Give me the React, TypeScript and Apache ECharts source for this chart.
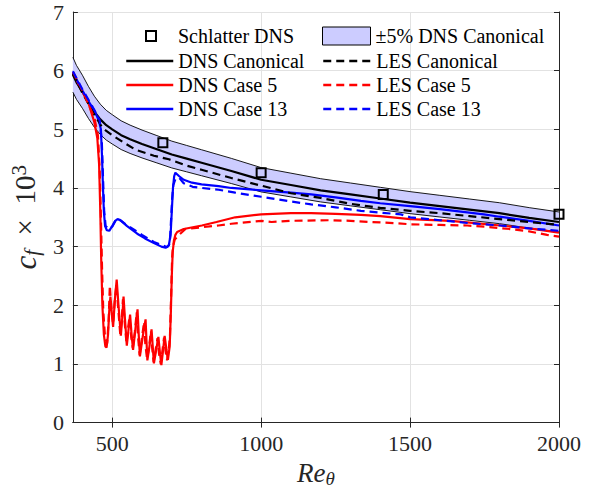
import React, { useEffect, useRef } from 'react';
import * as echarts from 'echarts';

// ---------- data ----------
const reTicks = [500, 1000, 1500, 2000];
const cfTicksMax = 7;

const schlatterRe = [670, 1000, 1410, 2000];
const schlatterCf = [4.77, 4.26, 3.89, 3.55];

const dnsCanonRe = [368, 380, 400, 420, 440, 460, 480, 500, 530, 560, 600, 650, 700, 750, 800, 900, 1000, 1100, 1200, 1300, 1400, 1500, 1600, 1700, 1800, 1900, 2000];
const dnsCanonCf = [5.93, 5.8, 5.64, 5.46, 5.3, 5.17, 5.07, 5.0, 4.9, 4.83, 4.75, 4.66, 4.57, 4.5, 4.43, 4.29, 4.14, 4.05, 3.96, 3.89, 3.82, 3.75, 3.69, 3.63, 3.57, 3.49, 3.42];
const bandFraction = 0.05; // ±5% band around DNS canonical

const lesCanonRe = [368, 400, 440, 468, 500, 540, 579, 640, 690, 750, 800, 900, 1000, 1100, 1200, 1300, 1400, 1500, 1600, 1700, 1800, 1900, 2000];
const lesCanonCf = [5.95, 5.62, 5.25, 5.02, 4.9, 4.77, 4.65, 4.55, 4.49, 4.38, 4.31, 4.17, 4.04, 3.91, 3.83, 3.73, 3.66, 3.61, 3.57, 3.52, 3.47, 3.42, 3.37];

const dnsCase5Re = [368, 400, 420, 440, 450, 456, 460, 463, 467, 472, 477, 481, 486, 490, 494, 498, 503, 509, 515, 521, 529, 534, 538, 543, 549, 555, 560, 565, 570, 577, 585, 589, 593, 602, 612, 615, 618, 625, 632, 636, 640, 648, 655, 660, 665, 670, 676, 682, 687, 693, 697, 700, 703, 707, 712, 718, 740, 801, 850, 913, 1000, 1100, 1168, 1250, 1335, 1400, 1500, 1636, 1700, 1803, 1900, 2000];
const dnsCase5Cf = [5.96, 5.64, 5.45, 5.12, 4.85, 4.4, 3.6, 2.8, 2.0, 1.5, 1.3, 1.28, 1.5, 1.9, 2.15, 1.9, 1.63, 2.1, 2.44, 2.0, 1.48, 1.8, 2.15, 1.75, 1.31, 1.6, 1.84, 1.5, 1.24, 1.55, 1.93, 1.5, 1.13, 1.45, 1.76, 1.4, 1.06, 1.3, 1.59, 1.3, 1.01, 1.25, 1.46, 1.2, 0.98, 1.2, 1.48, 1.25, 1.07, 1.3, 1.9, 2.5, 2.9, 3.1, 3.2, 3.25, 3.3, 3.36, 3.42, 3.5, 3.55, 3.57, 3.57, 3.56, 3.54, 3.52, 3.47, 3.44, 3.41, 3.36, 3.31, 3.24];

const lesCase5Re = [368, 400, 440, 452, 458, 462, 466, 470, 476, 483, 488, 492, 497, 503, 508, 514, 520, 527, 532, 536, 542, 548, 553, 558, 564, 569, 576, 582, 587, 592, 600, 607, 611, 617, 624, 630, 634, 639, 646, 652, 657, 663, 668, 674, 679, 684, 690, 694, 698, 701, 704, 710, 720, 746, 800, 857, 900, 1002, 1035, 1100, 1224, 1300, 1368, 1450, 1502, 1600, 1692, 1750, 1836, 1900, 1960, 2000];
const lesCase5Cf = [5.98, 5.66, 5.2, 4.9, 4.3, 3.5, 2.6, 1.9, 1.45, 1.35, 1.75, 2.34, 1.95, 1.68, 2.05, 2.35, 1.95, 1.5, 1.75, 2.1, 1.7, 1.35, 1.6, 1.8, 1.45, 1.27, 1.55, 1.88, 1.45, 1.15, 1.45, 1.72, 1.35, 1.08, 1.3, 1.56, 1.28, 1.03, 1.25, 1.44, 1.18, 1.0, 1.2, 1.45, 1.22, 1.06, 1.25, 1.5, 2.2, 2.8, 3.0, 3.12, 3.18, 3.3, 3.33, 3.36, 3.39, 3.44, 3.42, 3.44, 3.45, 3.44, 3.42, 3.4, 3.38, 3.37, 3.36, 3.34, 3.3, 3.26, 3.2, 3.17];

const dnsCase13Re = [368, 400, 420, 440, 455, 462, 466, 469, 472, 476, 482, 490, 500, 510, 518, 530, 550, 584, 610, 640, 665, 679, 690, 696, 700, 704, 708, 712, 725, 740, 768, 800, 857, 900, 1000, 1100, 1168, 1250, 1335, 1400, 1500, 1600, 1748, 1800, 1900, 2000];
const dnsCase13Cf = [5.97, 5.66, 5.48, 5.32, 5.15, 5.0, 4.5, 4.0, 3.6, 3.35, 3.28, 3.27, 3.35, 3.44, 3.47, 3.44, 3.35, 3.22, 3.14, 3.06, 3.0, 2.98, 3.02, 3.2, 3.6, 4.0, 4.2, 4.26, 4.2, 4.14, 4.09, 4.06, 4.03, 4.0, 3.96, 3.92, 3.89, 3.84, 3.78, 3.74, 3.69, 3.64, 3.55, 3.51, 3.44, 3.36];

const lesCase13Re = [368, 400, 440, 458, 465, 469, 473, 478, 488, 500, 512, 520, 540, 560, 600, 640, 670, 685, 693, 697, 701, 705, 712, 724, 740, 770, 801, 857, 913, 1000, 1100, 1168, 1250, 1335, 1400, 1469, 1500, 1600, 1700, 1803, 1900, 2000];
const lesCase13Cf = [5.99, 5.68, 5.33, 5.15, 4.8, 4.2, 3.6, 3.35, 3.3, 3.34, 3.45, 3.48, 3.4, 3.33, 3.2, 3.08, 3.02, 2.99, 3.05, 3.4, 3.8, 4.05, 4.15, 4.18, 4.08, 4.02, 4.0, 3.97, 3.92, 3.85, 3.77, 3.72, 3.67, 3.61, 3.58, 3.55, 3.5, 3.45, 3.4, 3.36, 3.31, 3.27];

// ---------- helpers ----------
const zip = (xs: number[], ys: number[]) => xs.map((x, i) => [x, ys[i]]);
const SERIF = 'Liberation Serif';
const AX = '#262626';
const BAND = '#ccccff';

const bandUpper = dnsCanonCf.map((v) => v * (1 + bandFraction));
const bandLower = dnsCanonCf.map((v) => v * (1 - bandFraction));

const lineSeries = (name: string, xs: number[], ys: number[], color: string, dashed: boolean) => ({
  name,
  type: 'line',
  data: zip(xs, ys),
  symbol: 'none',
  showSymbol: false,
  color,
  itemStyle: { color },
  lineStyle: { color, width: 2.2, type: dashed ? [8, 5] : 'solid' },
  z: 3,
});

const legendText = { fontFamily: SERIF, fontSize: 20, color: '#000', lineHeight: 20 };
const hiddenSymbol = { color: 'rgba(0,0,0,0)', borderColor: 'rgba(0,0,0,0)', borderWidth: 0, opacity: 0 };

const option: any = {
  animation: false,
  backgroundColor: '#ffffff',
  grid: { left: 70, right: 40, top: 12, bottom: 68, containLabel: false },
  legend: [
    {
      data: ['Schlatter DNS'],
      left: 145, top: 26, padding: 0,
      itemWidth: 10, itemHeight: 10, itemGap: 4,
      selectedMode: false,
      itemStyle: { color: 'rgba(0,0,0,0)', borderColor: '#000', borderWidth: 2, opacity: 1 },
      textStyle: { ...legendText, padding: [0, 0, 0, 17] },
    },
    {
      data: [{ name: '±5% DNS Canonical', icon: 'rect', itemStyle: { color: BAND, borderColor: '#000', borderWidth: 1 } }],
      left: 322, top: 26, padding: 0,
      itemWidth: 48, itemHeight: 18, itemGap: 4,
      selectedMode: false,
      textStyle: legendText,
    },
    {
      data: ['DNS Canonical', 'DNS Case 5', 'DNS Case 13'],
      orient: 'vertical',
      left: 125, top: 51, padding: 0,
      itemWidth: 47, itemHeight: 14, itemGap: 4,
      selectedMode: false,
      itemStyle: hiddenSymbol,
      lineStyle: { width: 2.5 },
      textStyle: legendText,
    },
    {
      data: ['LES Canonical', 'LES Case 5', 'LES Case 13'],
      orient: 'vertical',
      left: 322, top: 51, padding: 0,
      itemWidth: 48, itemHeight: 14, itemGap: 4,
      selectedMode: false,
      itemStyle: hiddenSymbol,
      lineStyle: { width: 2.5 },
      textStyle: legendText,
    },
  ],
  xAxis: [
    {
      type: 'value',
      position: 'bottom',
      min: 368,
      max: 2000,
      name: '{r|Re}{s|θ}',
      nameLocation: 'middle',
      nameGap: 29,
      nameTextStyle: {
        rich: {
          r: { fontFamily: SERIF, fontStyle: 'italic', fontSize: 27, color: AX, lineHeight: 30, verticalAlign: 'middle' },
          s: { fontFamily: SERIF, fontStyle: 'italic', fontSize: 19, color: AX, lineHeight: 18, verticalAlign: 'bottom' },
        },
      },
      axisLine: { show: true, lineStyle: { color: AX, width: 1 } },
      axisTick: { show: true, inside: true, length: 5, customValues: reTicks, lineStyle: { color: AX } },
      axisLabel: { customValues: reTicks, fontFamily: SERIF, fontSize: 22, color: AX, margin: 10, formatter: (v: number) => String(v) },
      splitLine: { show: true, lineStyle: { color: '#e2e2e2', width: 1 } },
    },
    {
      type: 'value',
      position: 'top',
      min: 368,
      max: 2000,
      axisLine: { show: true, lineStyle: { color: AX, width: 1 } },
      axisTick: { show: true, inside: true, length: 5, customValues: reTicks, lineStyle: { color: AX } },
      axisLabel: { show: false },
      splitLine: { show: false },
    },
  ],
  yAxis: [
    {
      type: 'value',
      position: 'left',
      min: 0,
      max: cfTicksMax,
      interval: 1,
      name: '{c|c}{f|f}{x|  ×  10}{e|3}',
      nameLocation: 'middle',
      nameGap: 19,
      nameRotate: 90,
      nameTextStyle: {
        rich: {
          c: { fontFamily: SERIF, fontStyle: 'italic', fontSize: 31, color: AX, lineHeight: 34, verticalAlign: 'middle' },
          f: { fontFamily: SERIF, fontStyle: 'italic', fontSize: 21, color: AX, lineHeight: 20, verticalAlign: 'bottom' },
          x: { fontFamily: SERIF, fontSize: 29, color: AX, lineHeight: 34, verticalAlign: 'middle' },
          e: { fontFamily: SERIF, fontSize: 21, color: AX, lineHeight: 18, verticalAlign: 'top' },
        },
      },
      axisLine: { show: true, lineStyle: { color: AX, width: 1 } },
      axisTick: { show: true, inside: true, length: 5, lineStyle: { color: AX } },
      axisLabel: { fontFamily: SERIF, fontSize: 22, color: AX, margin: 9 },
      splitLine: { show: true, lineStyle: { color: '#e2e2e2', width: 1 } },
    },
    {
      type: 'value',
      position: 'right',
      min: 0,
      max: cfTicksMax,
      interval: 1,
      axisLine: { show: true, lineStyle: { color: AX, width: 1 } },
      axisTick: { show: true, inside: true, length: 5, lineStyle: { color: AX } },
      axisLabel: { show: false },
      splitLine: { show: false },
    },
  ],
  series: [
    {
      name: '±5% DNS Canonical',
      type: 'custom',
      data: [[dnsCanonRe[0], dnsCanonCf[0]]],
      encode: { x: 0, y: 1 },
      itemStyle: { color: BAND, borderColor: '#000', borderWidth: 1 },
      z: 1,
      renderItem: (params: any, api: any) => {
        const up = dnsCanonRe.map((x, i) => api.coord([x, bandUpper[i]]));
        const lo = dnsCanonRe.map((x, i) => api.coord([x, bandLower[i]])).reverse();
        return {
          type: 'group',
          children: [
            { type: 'polygon', shape: { points: up.concat(lo) }, style: { fill: BAND, stroke: 'none' } },
            { type: 'polyline', shape: { points: up }, style: { fill: 'none', stroke: '#000', lineWidth: 0.9 } },
            { type: 'polyline', shape: { points: lo }, style: { fill: 'none', stroke: '#000', lineWidth: 0.9 } },
          ],
        };
      },
    },
    lineSeries('DNS Canonical', dnsCanonRe, dnsCanonCf, '#000000', false),
    lineSeries('DNS Case 5', dnsCase5Re, dnsCase5Cf, '#ff0000', false),
    lineSeries('DNS Case 13', dnsCase13Re, dnsCase13Cf, '#0000ff', false),
    lineSeries('LES Canonical', lesCanonRe, lesCanonCf, '#000000', true),
    lineSeries('LES Case 5', lesCase5Re, lesCase5Cf, '#ff0000', true),
    lineSeries('LES Case 13', lesCase13Re, lesCase13Cf, '#0000ff', true),
    {
      name: 'Schlatter DNS',
      type: 'scatter',
      data: zip(schlatterRe, schlatterCf),
      symbol: 'rect',
      symbolSize: 9,
      clip: false,
      itemStyle: { color: 'rgba(255,255,255,0)', borderColor: '#000', borderWidth: 2, opacity: 1 },
      z: 5,
    },
  ],
};

export default function App() {
  const ref = useRef<HTMLDivElement>(null);
  useEffect(() => {
    const chart = echarts.init(ref.current!, null, { renderer: 'svg' });
    chart.setOption(option);
    return () => chart.dispose();
  }, []);
  return (
    <div
      ref={ref}
      style={{ position: 'fixed', left: 0, top: 0, width: 599, height: 493, background: '#ffffff' }}
    />
  );
}
